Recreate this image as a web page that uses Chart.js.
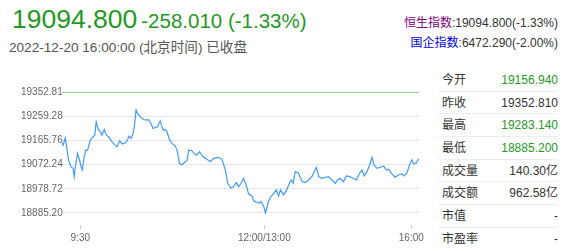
<!DOCTYPE html>
<html>
<head>
<meta charset="utf-8">
<script src="https://cdn.jsdelivr.net/npm/chart.js"></script>
<style>
  body { margin: 0; background: #fff; font-family: "Liberation Sans", Arial, "Noto Sans CJK SC", sans-serif; width: 567px; height: 251px; overflow: hidden; position: relative; }
  .quote { position: absolute; left: 12px; top: 4px; white-space: nowrap; color: #1f9a1f; }
  .quote .last { font-size: 26.5px; }
  .quote .chg { font-size: 20.5px; margin-left: 4px; }
  .stamp { position: absolute; left: 9px; top: 40px; font-size: 13.6px; line-height: 16px; color: #555; white-space: nowrap; }
  .idx { position: absolute; right: 9px; font-size: 12px; line-height: 16px; color: #333; white-space: nowrap; }
  .idx a { text-decoration: none; }
  #hsi { top: 15px; }
  #hsi a { color: #800080; }
  #hscei { top: 35px; }
  #hscei a { color: #0000dd; }
  #stats { position: absolute; left: 438px; top: 69px; width: 120px; font-size: 12px; color: #333; }
  #stats div { height: 21.7px; line-height: 22px; border-bottom: 1px solid #eeeeee; display: flex; justify-content: space-between; padding-left: 4px; }
  #stats div:last-child { border-bottom: none; }
  #stats .dn { color: #1f9a1f; }
  #chartBox { position: absolute; left: 0; top: 80px; }
</style>
</head>
<body>
<div class="quote"><span class="last">19094.800</span><span class="chg">-258.010 (-1.33%)</span></div>
<div class="stamp">2022-12-20 16:00:00 (北京时间) 已收盘</div>
<div class="idx" id="hsi"><a>恒生指数</a>:19094.800(-1.33%)</div>
<div class="idx" id="hscei"><a>国企指数</a>:6472.290(-2.00%)</div>
<div id="stats"></div>
<div id="chartBox"><canvas id="trendChart" width="430" height="171"></canvas></div>
<script>
// intraday trace, slot = position along the session axis (0..120)
const slots = [0, 0.4, 1.1, 2.2, 3.0, 3.7, 4.1, 4.5, 5.2, 5.9, 6.4, 6.8, 7.3, 7.9, 8.6, 9.5, 10.4, 11.0, 11.5, 12.3,
  12.9, 13.4, 14.2, 14.9, 15.7, 16.8, 17.9, 18.5, 19.4, 20.2, 21.3, 22.0, 22.5, 23.2, 23.9, 24.3, 24.9, 25.4, 26.3, 27.4,
  28.6, 29.1, 29.9, 30.6, 31.4, 32.1, 33.0, 33.6, 34.1, 34.7, 35.3, 36.2, 37.0, 38.1, 38.7, 39.5, 40.3, 41.4, 42.0, 42.6,
  43.7, 44.5, 45.4, 46.2, 47.4, 48.7, 49.8, 51.0, 52.6, 53.8, 54.9, 55.7, 56.8, 57.7, 58.6, 59.4, 60.2, 61.0, 61.9, 62.7,
  63.9, 64.4, 65.5, 66.4, 66.9, 67.8, 68.4, 69.4, 70.2, 71.1, 72.0, 72.8, 73.4, 74.5, 75.4, 76.2, 77.0, 77.7, 78.4, 79.5,
  80.7, 81.8, 82.9, 84.1, 85.5, 86.3, 87.4, 88.5, 89.6, 90.7, 91.9, 92.6, 93.5, 94.6, 95.6, 96.7, 97.8, 98.9, 100.0, 100.8,
  101.6, 102.5, 103.4, 104.2, 104.9, 105.9, 107.0, 108.1, 109.0, 109.8, 110.9, 112.0, 113.1, 114.3, 115.0, 115.9, 116.8, 117.6, 118.2, 119.1,
  119.9]
const prices = [19156.9, 19147.6, 19175.7, 19089.9, 19064.1, 19058.0, 19025.6, 19064.1, 19115.7, 19089.9, 19064.1, 19051.4, 19089.9, 19128.4, 19128.4, 19166.9, 19179.6, 19186.1, 19237.3, 19205.4,
  19198.8, 19186.1, 19208.1, 19186.1, 19179.6, 19160.3, 19147.6, 19141.1, 19164.2, 19151.5, 19156.5, 19166.9, 19182.3, 19173.4, 19192.7, 19218.1, 19283.1, 19269.7, 19256.6, 19246.6,
  19243.9, 19246.6, 19231.2, 19211.9, 19215.8, 19218.1, 19241.2, 19218.1, 19205.4, 19208.1, 19198.8, 19166.9, 19154.2, 19143.8, 19128.4, 19077.2, 19070.7, 19083.4, 19087.2, 19128.4,
  19125.7, 19113.0, 19109.2, 19121.9, 19102.6, 19092.6, 19083.4, 19096.5, 19100.3, 19092.6, 19051.4, 19000.2, 18981.0, 18987.1, 19002.5, 18987.1, 19000.2, 19019.5, 18993.7, 18959.0,
  18951.3, 18933.3, 18925.6, 18923.2, 18929.4, 18910.2, 18885.2, 18929.4, 18948.7, 18959.0, 18974.4, 18951.3, 18974.4, 18955.2, 18971.7, 18993.7, 19012.9, 19000.2, 19044.9, 19038.7,
  19006.4, 19002.5, 19012.9, 19028.3, 19061.8, 19025.6, 19019.5, 19023.3, 19025.6, 19012.9, 19000.2, 19012.9, 19019.5, 19006.4, 19028.3, 19025.6, 19019.5, 19012.9, 19038.7, 19051.4,
  19028.3, 19044.9, 19070.7, 19100.3, 19070.7, 19058.0, 19061.8, 19066.8, 19051.4, 19054.1, 19036.0, 19023.3, 19032.2, 19036.0, 19028.3, 19038.7, 19070.7, 19089.9, 19074.5, 19079.5,
  19094.8]

const prevClose = 19352.81
const yTicks = [18885.2, 18978.722, 19072.244, 19165.766, 19259.288, 19352.81]
const yLabels = ["18885.200", "18978.722", "19072.244", "19165.766", "19259.288", "19352.810"]
const xTickSlots = [6.15, 68, 117.4]
const xTickLabels = ["9:30", "12:00/13:00", "16:00"]

const statNames = ["今开", "昨收", "最高", "最低", "成交量", "成交额", "市值", "市盈率"]
const statValues = ["19156.940", "19352.810", "19283.140", "18885.200", "140.30亿", "962.58亿", "-", "-"]
const statDown = [true, false, true, true, false, false, false, false]

const stats = document.getElementById("stats")
for (let i = 0; i < statNames.length; i++) {
    const row = document.createElement("div")
    const name = document.createElement("span")
    name.innerHTML = statNames[i]
    const val = document.createElement("span")
    val.innerHTML = statValues[i]
    if (statDown[i]) {
        val.classList.add("dn")
    }
    row.appendChild(name)
    row.appendChild(val)
    stats.appendChild(row)
}

// y labels are clipped at the plot edge, like the original
const yLabelPlugin = {
    id: 'yLabels',
    beforeDatasetsDraw(chart) {
        const ctx = chart.ctx
        const area = chart.chartArea
        const y = chart.scales.y
        ctx.save()
        ctx.beginPath()
        ctx.rect(0, 0, area.left + 1, chart.height)
        ctx.clip()
        ctx.font = '10px "Liberation Sans", Arial'
        ctx.fillStyle = '#666'
        ctx.textAlign = 'left'
        ctx.textBaseline = 'middle'
        for (let i = 0; i < yTicks.length; i++) {
            ctx.fillText(yLabels[i], 21, y.getPixelForValue(yTicks[i]))
        }
        ctx.restore()
    }
}

const points = slots.map((s, i) => ({ x: s, y: prices[i] }))

new Chart(document.getElementById("trendChart"), {
    type: 'line',
    data: {
        datasets: [{
            data: points,
            borderColor: '#3f9bff',
            borderWidth: 1.2,
            pointRadius: 0,
            tension: 0,
            fill: false
        }]
    },
    options: {
        responsive: false,
        animation: false,
        devicePixelRatio: 1,
        layout: { padding: { top: 12, right: 11, left: 0, bottom: 0 } },
        plugins: { legend: { display: false }, tooltip: { enabled: false } },
        scales: {
            x: {
                type: 'linear',
                min: 0,
                max: 120,
                afterFit: (scale) => { scale.height = 26 },
                afterBuildTicks: (scale) => { scale.ticks = xTickSlots.map(v => ({ value: v })) },
                border: { display: false },
                grid: { drawOnChartArea: false, tickLength: 4, color: '#cccccc' },
                ticks: {
                    autoSkip: false,
                    maxRotation: 0,
                    padding: 3,
                    color: '#666',
                    font: { size: 10, family: '"Liberation Sans", Arial' },
                    callback: (v) => xTickLabels[xTickSlots.indexOf(v)]
                }
            },
            y: {
                min: 18838.8,
                max: prevClose,
                afterFit: (scale) => { scale.width = 62 },
                afterBuildTicks: (scale) => { scale.ticks = yTicks.map(v => ({ value: v })) },
                border: { display: false },
                grid: {
                    drawTicks: false,
                    color: (c) => Math.abs(c.tick.value - prevClose) < 0.01 ? '#95cf95' : '#e6e6e6'
                },
                ticks: { display: false }
            }
        }
    },
    plugins: [yLabelPlugin]
})
</script>
</body>
</html>
